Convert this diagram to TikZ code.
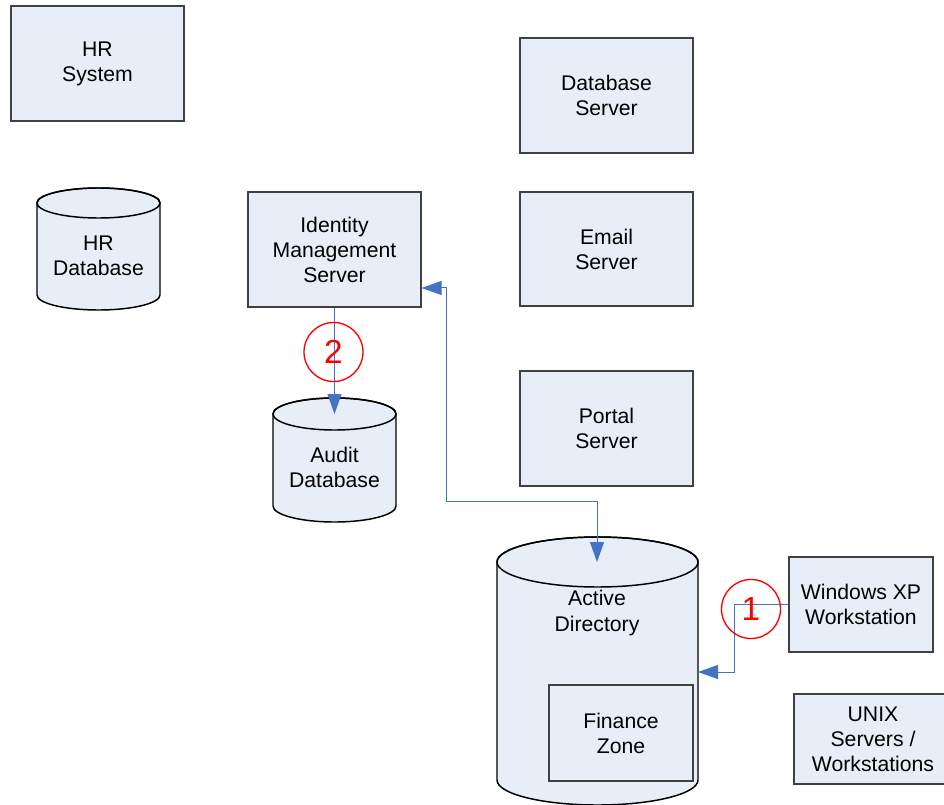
\documentclass[tikz,border=0pt]{standalone}
\usepackage{fontspec}
\setmainfont{Liberation Sans}
\usetikzlibrary{arrows.meta}
\definecolor{boxfill}{RGB}{232,238,247}
\definecolor{boxline}{RGB}{64,64,64}
\definecolor{connblue}{RGB}{68,114,196}
\tikzset{
  box/.style={draw=boxline, fill=boxfill, line width=0.8pt, align=center,
    inner sep=0pt, font=\fontsize{15.9pt}{18.8pt}\selectfont},
  cyl/.style={draw=black, fill=boxfill, line width=1.1pt},
  cyltext/.style={align=center, inner sep=0pt, font=\fontsize{15.9pt}{18.8pt}\selectfont},
  conn/.style={draw=connblue, line width=0.75pt},
  tri/.tip={Triangle[length=15pt,width=10.5pt]},
  numcirc/.style={circle, draw=red, line width=1pt, minimum size=44.25pt,
    inner sep=0pt, text=red, font=\fontsize{25pt}{25pt}\selectfont}
}
\begin{document}
\begin{tikzpicture}[x=0.75pt,y=0.75pt]
\useasboundingbox (0,0) rectangle (944,804);
\clip (0,0) rectangle (944,804);

% rectangular boxes
\node[box, minimum width=129.75pt, minimum height=86.25pt] (hrs) at (97.5,740.5) {HR\\System};
\node[box, minimum width=129.75pt, minimum height=86.25pt] (dbs) at (606.5,708.5) {Database\\Server};
\node[box, minimum width=129.75pt, minimum height=86.25pt] (ims) at (334.5,554.5) {Identity\\Management\\Server};
\node[box, minimum width=129.75pt, minimum height=85.5pt] (ems) at (606.5,555) {Email\\Server};
\node[box, minimum width=129.75pt, minimum height=86.25pt] (por) at (606.5,375.5) {Portal\\Server};
\node[box, minimum width=108pt, minimum height=71.25pt] (wxp) at (861,199.5) {Windows XP\\Workstation};
\node[box, minimum width=118.5pt, minimum height=67.5pt] (unix) at (873,65) {UNIX\\Servers /\\Workstations};

% HR Database cylinder
\filldraw[cyl] (37,601) -- (37,509) arc[start angle=180,end angle=360,x radius=46.125pt,y radius=11.25pt]
  -- (160,601) arc[start angle=0,end angle=180,x radius=46.125pt,y radius=11.25pt] -- cycle;
\draw[cyl, fill=none] (98.5,601) ellipse[x radius=46.125pt,y radius=11.25pt];
\node[cyltext] (hrdb) at (98.5,548) {HR\\Database};

% Audit Database cylinder
\filldraw[cyl] (273,390) -- (273,298) arc[start angle=180,end angle=360,x radius=46.125pt,y radius=12pt]
  -- (396,390) arc[start angle=0,end angle=180,x radius=46.125pt,y radius=12pt] -- cycle;
\draw[cyl, fill=none] (334.5,390) ellipse[x radius=46.125pt,y radius=12pt];
\node[cyltext] (audb) at (334.5,337) {Audit\\Database};
\coordinate (audbtop) at (334.5,390);

% Active Directory cylinder
\filldraw[cyl] (497,242) -- (497,24) arc[start angle=180,end angle=360,x radius=75.375pt,y radius=18.75pt]
  -- (698,242) arc[start angle=0,end angle=180,x radius=75.375pt,y radius=18.75pt] -- cycle;
\draw[cyl, fill=none] (597.5,242) ellipse[x radius=75.375pt,y radius=18.75pt];
\node[cyltext] (ad) at (597,191) {Active\\Directory};
\coordinate (adtop) at (597,242);
\coordinate (adright) at (698,132);
\node[box, minimum width=108pt, minimum height=72pt] (fin) at (621,71) {Finance\\Zone};

% connectors
\coordinate (j1) at (446,516);
\coordinate (j2) at (446,303);
\draw[conn, {tri}-{tri}] (ims.east |- j1) -- (j1) -- (j2) -- (j2 -| adtop) -- (adtop);
\draw[conn, -{tri}] (ims.south) -- (audbtop);
\coordinate (k1) at (734,199.5);
\draw[conn, -{tri}] (wxp.west) -- (k1) |- (adright);

% numbered circles
\node[numcirc] (n2) at (333.5,452) {2};
\node[numcirc] (n1) at (751,195) {1};
\end{tikzpicture}
\end{document}
